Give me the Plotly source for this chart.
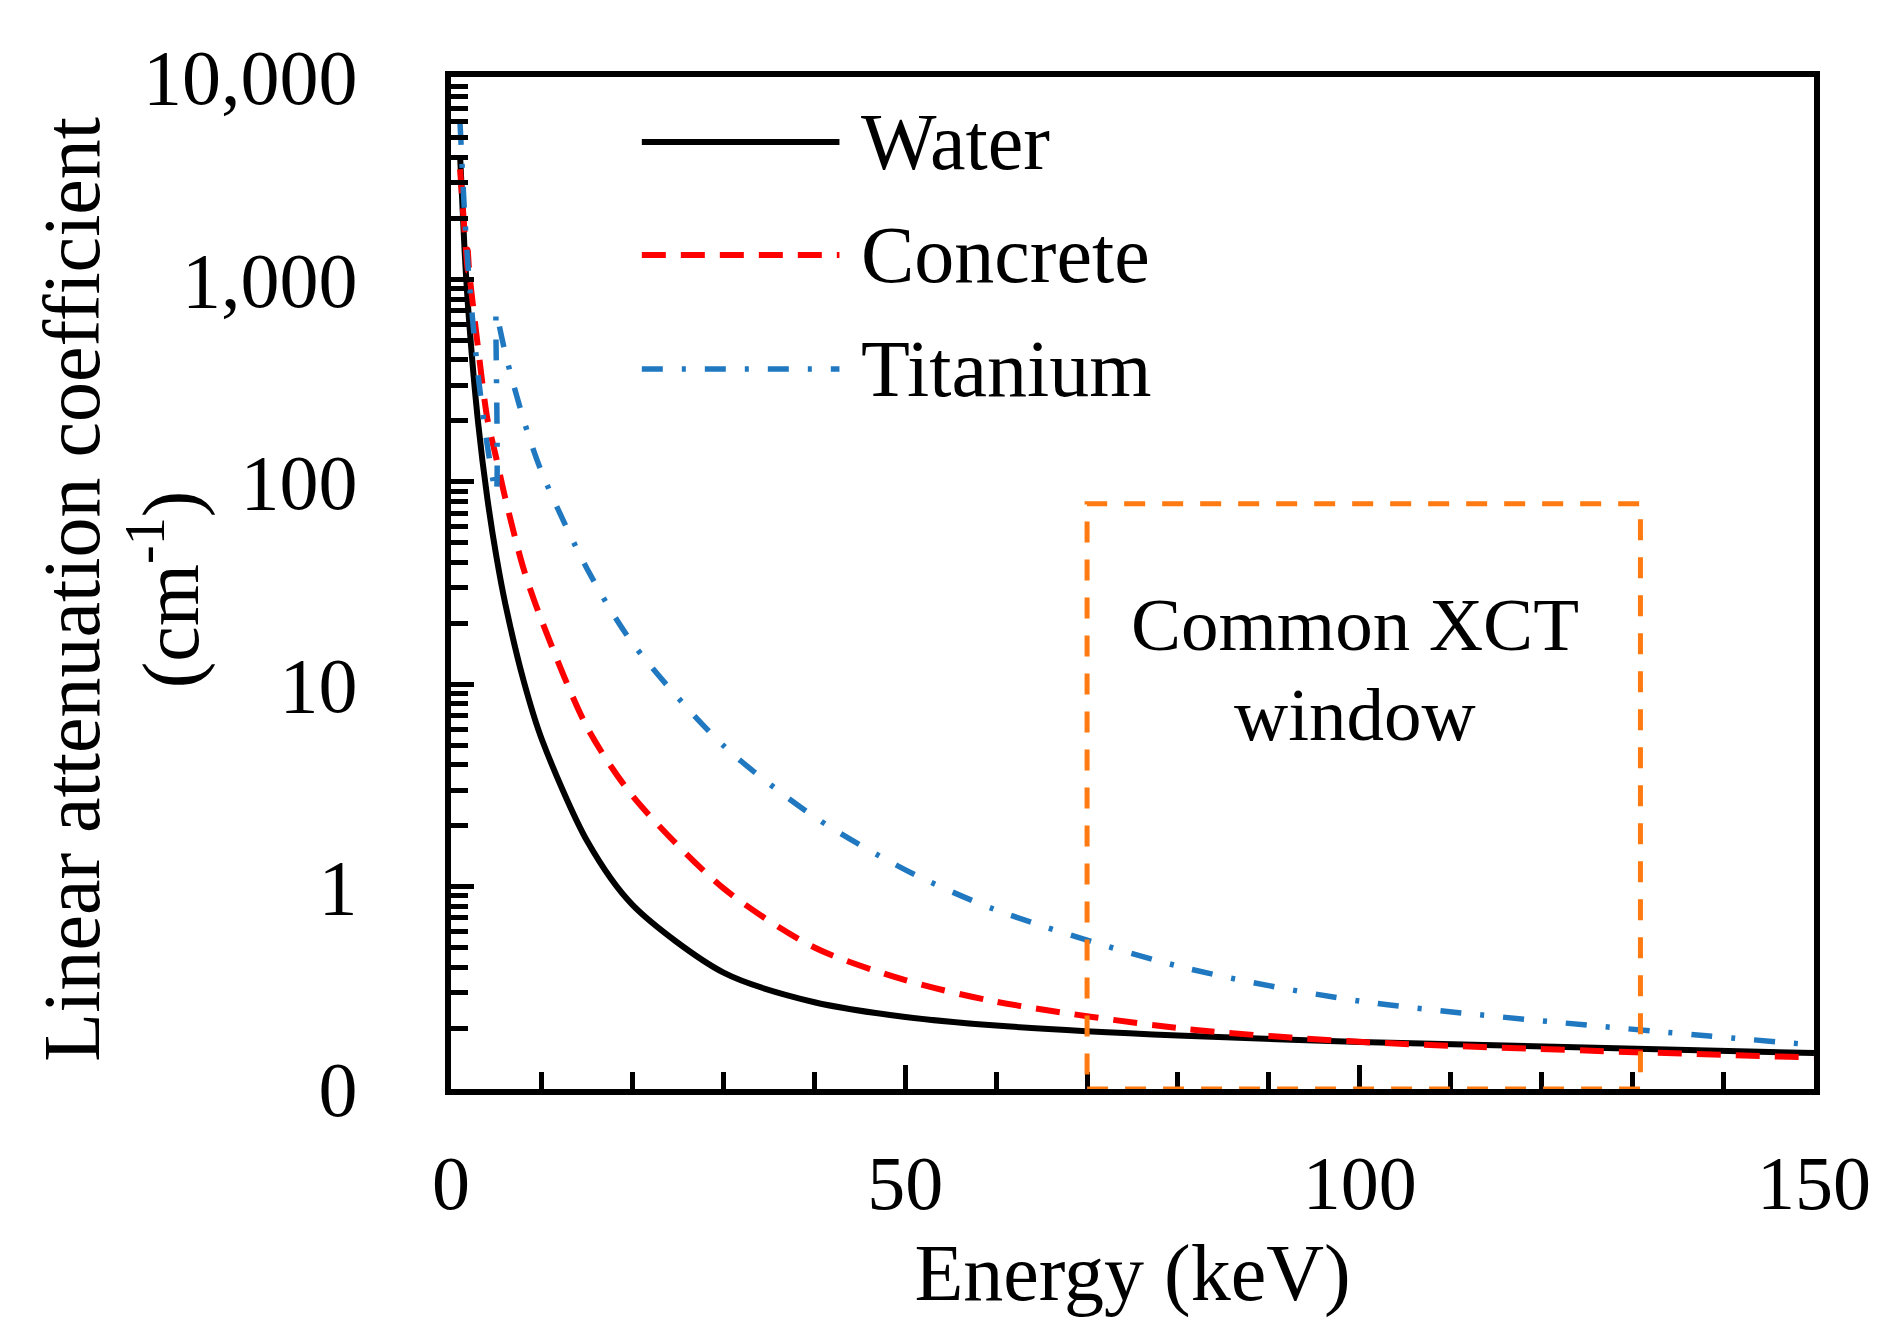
import plotly.graph_objects as go

# mass attenuation coefficients (energy in keV)
water_e = [1, 1.5, 2, 3, 4, 5, 6, 8, 10, 15, 20, 30, 40, 50, 60, 80, 100, 150]
water_mu = [4078, 1376, 617.3, 192.9, 82.78, 42.58, 24.64, 10.37, 5.329, 1.673,
            0.8096, 0.3756, 0.2683, 0.2269, 0.2059, 0.1837, 0.1707, 0.1505]

concrete_e = [1, 1.5, 1.84, 1.84, 2, 3, 4, 5, 6, 8, 10, 15, 20, 30, 40, 50, 60, 80, 100, 150]
concrete_mu = [3500, 1700, 1100, 1400, 1100, 450, 205, 130, 82, 37, 20.5, 6.1, 2.8,
               0.98, 0.50, 0.345, 0.27, 0.20, 0.171, 0.143]

titanium_e = [1, 1.5, 2, 3, 4, 4.966, 4.966, 5, 6, 8, 10, 15, 20, 30, 40, 50, 60, 80, 100, 150]
titanium_mu = [5869, 2096, 986, 332, 151, 88, 688, 683, 427, 202, 111, 37, 15.9,
               4.97, 2.21, 1.21, 0.766, 0.405, 0.272, 0.165]

# common XCT window (keV) and top of the box
xct_lo, xct_hi, xct_top = 70, 130.9, 78

y_ticks = [0.1, 1, 10, 100, 1000, 10000]
y_ticktext = ["0", "1", "10", "100", "1,000", "10,000"]
y_minor = [m * 10 ** k for k in range(-1, 4) for m in range(2, 10)]
x_ticks = [0, 50, 100, 150]

FONT = "Liberation Serif, Times New Roman, serif"

series = [
    ("Water", water_e, water_mu, dict(color="black", width=6)),
    ("Concrete", concrete_e, concrete_mu, dict(color="#FF0000", width=6, dash="24px,15px")),
    ("Titanium", titanium_e, titanium_mu, dict(color="#1F78C0", width=5.5, dash="21px,19px,4px,19px")),
]

fig = go.Figure()
for name, e, mu, line in series:
    fig.add_trace(go.Scatter(x=e, y=mu, mode="lines", name=name, showlegend=False,
                             line=dict(line, shape="spline", smoothing=0.8)))

# dashed box for the XCT window
fig.add_shape(type="rect", xref="x", yref="y", x0=xct_lo, x1=xct_hi, y0=0.1, y1=xct_top,
              line=dict(color="#FF7A10", width=5, dash="21px,17px"), layer="above")
fig.add_annotation(x=99.5, xref="x", y=0.4589, yref="paper", text="Common XCT",
                   showarrow=False, font=dict(family=FONT, size=75, color="black"))
fig.add_annotation(x=99.5, xref="x", y=0.3697, yref="paper", text="window",
                   showarrow=False, font=dict(family=FONT, size=75, color="black"))

# hand-drawn legend (long line samples as in the reference)
leg_y = [0.9358, 0.8241, 0.7115]
for (name, e, mu, line), ly in zip(series, leg_y):
    fig.add_shape(type="line", xref="paper", yref="paper", x0=0.140, x1=0.285, y0=ly, y1=ly,
                  line=line)
    fig.add_annotation(x=0.299, y=ly, xref="paper", yref="paper", text=name,
                       showarrow=False, xanchor="left", yanchor="middle",
                       font=dict(family=FONT, size=80, color="black"))

# y axis title, two lines
fig.add_annotation(x=-0.3114, y=0.494, xref="paper", yref="paper",
                   text="Linear attenuation coefficient", textangle=-90, showarrow=False,
                   font=dict(family=FONT, size=80, color="black"))
fig.add_annotation(x=-0.2485, y=0.494, xref="paper", yref="paper",
                   text="(cm<sup>-1</sup>)", textangle=-90, showarrow=False,
                   font=dict(family=FONT, size=80, color="black"))

fig.update_layout(
    width=1877,
    height=1339,
    margin=dict(l=443, r=71, t=69, b=258),
    plot_bgcolor="white",
    paper_bgcolor="white",
    font=dict(family=FONT, color="black"),
)
fig.update_xaxes(
    range=[0, 150], showgrid=False, zeroline=False,
    showline=True, linecolor="black", linewidth=6, mirror=True,
    ticks="inside", ticklen=24, tickwidth=5, tickcolor="black",
    tickmode="array", tickvals=x_ticks,
    minor=dict(ticks="inside", ticklen=17, tickwidth=5, tickcolor="black", dtick=10, tick0=0),
    tickfont=dict(family=FONT, size=76, color="black"), ticklabelstandoff=23,
    title=dict(text="Energy (keV)", font=dict(family=FONT, size=80, color="black"), standoff=22),
)
fig.update_yaxes(
    type="log", range=[-1, 4], showgrid=False, zeroline=False,
    showline=True, linecolor="black", linewidth=6, mirror=True,
    ticks="inside", ticklen=23, tickwidth=5, tickcolor="black",
    tickmode="array", tickvals=y_ticks, ticktext=y_ticktext,
    minor=dict(ticks="inside", ticklen=17, tickwidth=5, tickcolor="black",
               tickmode="array", tickvals=y_minor),
    tickfont=dict(family=FONT, size=78, color="black"), ticklabelstandoff=72,
)

fig.write_html("out.html")
